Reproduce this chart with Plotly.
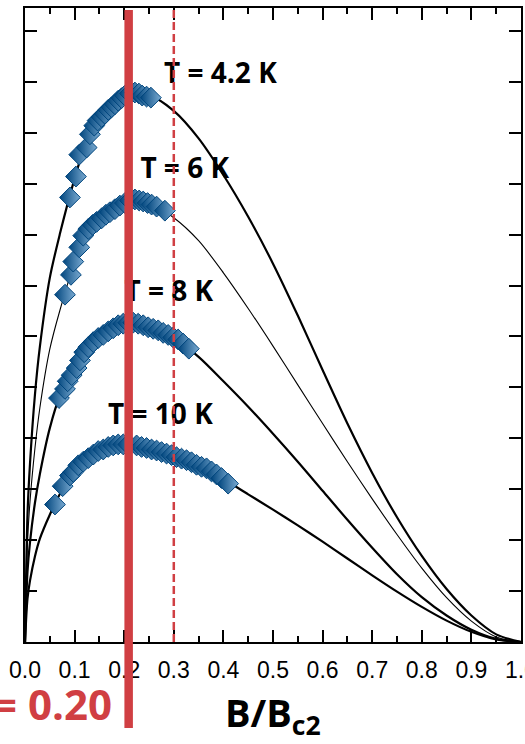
import plotly.graph_objects as go

# ---- data ----
b_grid = [0, 0.005, 0.01, 0.02, 0.03, 0.05, 0.07, 0.1, 0.13, 0.16, 0.2, 0.25, 0.3, 0.35, 0.4,
          0.45, 0.5, 0.55, 0.6, 0.65, 0.7, 0.75, 0.8, 0.85, 0.9, 0.95, 1.0]
fit_42 = [0, 2.49, 3.49, 4.85, 5.8, 7.15, 8.0, 9.1, 10.0, 10.45, 10.75, 10.74, 10.43, 9.89, 9.17,
          8.35, 7.43, 6.41, 5.34, 4.29, 3.32, 2.45, 1.69, 1.04, 0.52, 0.15, 0]
fit_6 = [0, 1.95, 2.75, 3.8, 4.6, 5.75, 6.5, 7.45, 8.1, 8.38, 8.62, 8.62, 8.33, 7.88, 7.25,
         6.55, 5.81, 5.05, 4.29, 3.54, 2.81, 2.11, 1.45, 0.87, 0.41, 0.10, 0]
fit_8 = [0, 1.38, 1.95, 2.73, 3.3, 4.2, 4.82, 5.33, 5.81, 6.05, 6.25, 6.18, 5.97, 5.60, 5.12,
         4.62, 4.09, 3.54, 2.97, 2.40, 1.85, 1.33, 0.88, 0.52, 0.24, 0.06, 0]
fit_10 = [0, 0.85, 1.2, 1.68, 2.03, 2.5, 2.9, 3.38, 3.63, 3.80, 3.88, 3.80, 3.66, 3.47, 3.20,
          2.90, 2.60, 2.29, 1.97, 1.64, 1.31, 0.99, 0.69, 0.42, 0.20, 0.05, 0]

b_42 = [0.0906, 0.1027, 0.1094, 0.1243, 0.1309, 0.1396, 0.1464, 0.1545, 0.1611, 0.1678, 0.1746,
        0.1813, 0.1879, 0.1948, 0.2014, 0.2115, 0.2216, 0.2296, 0.2363, 0.2451, 0.2538]
fp_42 = [8.73, 9.14, 9.57, 9.71, 9.97, 10.14, 10.24, 10.31, 10.37, 10.45, 10.50,
         10.56, 10.63, 10.68, 10.73, 10.77, 10.79, 10.77, 10.73, 10.71, 10.69]

b_6 = [0.0806, 0.0926, 0.0973, 0.1094, 0.1174, 0.1275, 0.1364, 0.1444, 0.1545, 0.1631, 0.1712,
       0.1813, 0.1913, 0.2014, 0.2115, 0.2216, 0.2302, 0.2383, 0.2471, 0.2552, 0.2653, 0.2820]
fp_6 = [6.82, 7.21, 7.47, 7.75, 7.98, 8.11, 8.19, 8.25, 8.32, 8.39, 8.44,
        8.50, 8.57, 8.62, 8.67, 8.69, 8.67, 8.65, 8.62, 8.59, 8.55, 8.47]

b_8 = [0.0685, 0.0806, 0.0860, 0.0941, 0.1041, 0.1108, 0.1194, 0.1275, 0.1376, 0.1476, 0.1577,
       0.1678, 0.1778, 0.1879, 0.1980, 0.2081, 0.2181, 0.2282, 0.2383, 0.2483, 0.2584, 0.2685,
       0.2785, 0.2886, 0.2987, 0.3088, 0.3188, 0.3303]
fp_8 = [4.79, 4.97, 5.12, 5.24, 5.38, 5.53, 5.69, 5.79, 5.89, 5.97, 6.03,
        6.10, 6.16, 6.22, 6.25, 6.27, 6.27, 6.25, 6.22, 6.18, 6.15, 6.12,
        6.07, 6.03, 5.98, 5.94, 5.86, 5.76]

b_10 = [0.0604, 0.0759, 0.0906, 0.0973, 0.1074, 0.1174, 0.1275, 0.1376, 0.1476, 0.1577, 0.1678,
        0.1778, 0.1879, 0.1980, 0.2081, 0.2250, 0.2350, 0.2451, 0.2552, 0.2653, 0.2753, 0.2854,
        0.2955, 0.3055, 0.3156, 0.3257, 0.3357, 0.3458, 0.3559, 0.3660, 0.3760, 0.3861, 0.3962,
        0.4095]
fp_10 = [2.70, 3.06, 3.27, 3.34, 3.47, 3.54, 3.61, 3.68, 3.75, 3.78, 3.83,
         3.86, 3.88, 3.88, 3.88, 3.86, 3.83, 3.81, 3.78, 3.76, 3.73, 3.70,
         3.67, 3.63, 3.60, 3.57, 3.53, 3.48, 3.44, 3.41, 3.35, 3.29, 3.22,
         3.11]

labels = ["T = 4.2 K", "T = 6 K", "T = 8 K", "T = 10 K"]
label_x = [0.394, 0.322, 0.290, 0.273]
label_y = [11.12, 9.25, 6.84, 4.41]

x_ticks = [0.0, 0.1, 0.2, 0.3, 0.4, 0.5, 0.6, 0.7, 0.8, 0.9, 1.0]
b_peak = 0.209
b_dash = 0.300
peak_text = "= 0.20"
x_title = "B/B<sub>c2</sub>"

# ---- styles ----
DARK = "#00457D"
LIGHT = "#7AAAD1"
RED = "#D03F43"
YMAX = 12.45

fig = go.Figure()

fits = [(fit_42, 2.2), (fit_6, 1.1), (fit_8, 2.2), (fit_10, 2.2)]
for ys, w in fits:
    fig.add_trace(go.Scatter(x=b_grid, y=ys, mode="lines",
                             line=dict(color="black", width=w, shape="spline", smoothing=0.8),
                             showlegend=False, hoverinfo="skip"))

for bx, fy in [(b_42, fp_42), (b_6, fp_6), (b_8, fp_8), (b_10, fp_10)]:
    fig.add_trace(go.Scatter(x=bx, y=fy, mode="markers",
                             marker=dict(symbol="diamond", size=16, color=DARK,
                                         gradient=dict(type="horizontal", color=LIGHT),
                                         line=dict(color=DARK, width=1)),
                             showlegend=False))

fig.add_trace(go.Scatter(x=label_x, y=label_y, mode="text",
                         text=["<b>" + t + "</b>" for t in labels],
                         textposition="middle center",
                         textfont=dict(family="Open Sans", size=28, color="black"),
                         showlegend=False, hoverinfo="skip"))

fig.add_shape(type="line", xref="x", yref="paper", x0=b_dash, x1=b_dash, y0=0, y1=0.997,
              line=dict(color=RED, width=2.5, dash="8px,4px"), layer="above")
fig.add_shape(type="line", xref="x", yref="paper", x0=b_peak, x1=b_peak, y0=-0.1356, y1=0.997,
              line=dict(color=RED, width=8.5), layer="above")

fig.add_annotation(xref="paper", yref="paper", x=0.1794, y=-0.097, xanchor="right",
                   yanchor="middle", text="<b>" + peak_text + "</b>", showarrow=False,
                   font=dict(family="Open Sans", size=42, color=RED))
fig.add_annotation(xref="paper", yref="paper", x=0.5, y=-0.115, xanchor="center",
                   yanchor="middle", text="<b>" + x_title + "</b>", showarrow=False,
                   font=dict(family="Open Sans", size=38, color="black"))

fig.update_xaxes(range=[0, 1], tickvals=x_ticks, ticktext=["%.1f" % v for v in x_ticks],
                 ticks="inside", ticklen=12, tickwidth=2, tickcolor="black",
                 minor=dict(dtick=0.05, tick0=0, ticks="inside", ticklen=6, tickwidth=2,
                            tickcolor="black", showgrid=False),
                 showline=True, linewidth=2, linecolor="black", mirror="ticks",
                 showgrid=False, zeroline=False, ticklabeloverflow="allow",
                 ticklabelstandoff=6, automargin=False,
                 tickfont=dict(family="Liberation Sans", size=23, color="black"))
fig.update_yaxes(range=[0, YMAX], dtick=1, tick0=0, ticks="inside", ticklen=12, tickwidth=2,
                 tickcolor="black", showline=True, linewidth=2, linecolor="black",
                 mirror="ticks", showgrid=False, zeroline=False, showticklabels=False,
                 automargin=False)

fig.update_layout(width=525, height=744, margin=dict(l=25, r=4, t=8, b=102),
                  plot_bgcolor="white", paper_bgcolor="white", showlegend=False)

fig.write_html("out.html", config={"displayModeBar": False},
               post_script="document.body.style.margin='0';")
